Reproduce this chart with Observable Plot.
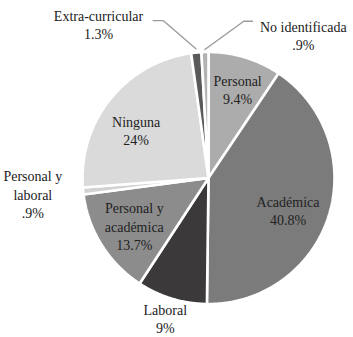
<!DOCTYPE html>
<html>
<head>
<meta charset="utf-8">
<script src="https://cdn.jsdelivr.net/npm/d3@7"></script>
<script src="https://cdn.jsdelivr.net/npm/@observablehq/plot@0.6"></script>
<style>
  html, body { margin: 0; padding: 0; background: #fff; }
  svg text { font-family: "Times New Roman", "Liberation Serif", "DejaVu Serif", serif !important; }
</style>
</head>
<body>
<div id="chart"></div>
<script>
// ---- data ----
const categories = ["Personal", "Académica", "Laboral", "Personal y académica", "Personal y laboral", "Ninguna", "Extra-curricular", "No identificada"];
const values = [9.4, 40.8, 9, 13.7, 0.9, 24, 1.3, 0.9];
const colors = ["#acacac", "#7b7b7b", "#3b3939", "#8c8c8c", "#d2d2d2", "#dadada", "#5a5a5a", "#b3b3b3"];

// ---- layout (label placement relative to each slice: radius factor k, angle offset in degrees) ----
const labelLayout = [
  {k: 0.74, da: 1.3},
  {k: 0.68, da: 4.6},
  {k: 1.165, da: 0.2},
  {k: 0.70, da: -0.5},
  {k: 1.37, da: 0.7, dx: -0.03},
  {k: 0.69, da: -5.2},
  {k: 1.50, da: -30},
  {k: 1.36, da: 35.2}
];
const leaderLayout = {
  6: {k0: 1.03, k1: 1.30, da: -10.5, tail: -0.08},
  7: {k0: 1.02, k1: 1.275, da: 14.3, tail: 0.07}
};

const W = 353, H = 337, CX = 208, CY = 177.5, PX = 126;

const rows = categories.map((c, i) => ({cat: c, value: values[i], color: colors[i]}));
const arcs = d3.pie().sort(null).value(d => d.value)(rows);

const polar = (a, k) => ({x: k * Math.sin(a), y: k * Math.cos(a)});
const deg = Math.PI / 180;

const slices = arcs.map(a => {
  const pts = [{x: 0, y: 0}];
  const n = Math.max(2, Math.ceil((a.endAngle - a.startAngle) / (0.5 * deg)));
  for (let j = 0; j <= n; j++) {
    pts.push(polar(a.startAngle + (a.endAngle - a.startAngle) * j / n, 1));
  }
  pts.push({x: 0, y: 0});
  return {color: a.data.color, pts};
});

const fmt = v => String(v).replace(/^0\./, ".") + "%";
const labels = arcs.map((a, i) => {
  const L = labelLayout[i];
  const mid = (a.startAngle + a.endAngle) / 2 + L.da * deg;
  const p = polar(mid, L.k);
  return {x: p.x + (L.dx || 0), y: p.y, text: a.data.cat.replace("Personal y ", "Personal y\n") + "\n" + fmt(a.data.value)};
});

const leaders = [];
Object.entries(leaderLayout).forEach(([i, L]) => {
  const a = arcs[+i];
  const mid = (a.startAngle + a.endAngle) / 2;
  const p0 = polar(mid, L.k0);
  const p1 = polar(mid + L.da * deg, L.k1);
  leaders.push({id: i, ...p0}, {id: i, ...p1}, {id: i, x: p1.x + L.tail, y: p1.y});
});

const chart = Plot.plot({
  width: W,
  height: H,
  margin: 0,
  x: {domain: [-CX / PX, (W - CX) / PX], axis: null},
  y: {domain: [-(H - CY) / PX, CY / PX], axis: null},
  style: {background: "#fff"},
  marks: [
    ...slices.map(s => Plot.line(s.pts, {x: "x", y: "y", fill: s.color, stroke: "#fff", strokeWidth: 2.6, strokeLinejoin: "miter"})),
    Plot.line(leaders, {x: "x", y: "y", z: "id", stroke: "#9a9a9a", strokeWidth: 1.3}),
    Plot.text(labels, {x: "x", y: "y", text: "text", fontSize: 14, lineHeight: 1.3, fill: "#222", fontFamily: "Times New Roman, Liberation Serif, DejaVu Serif, serif"})
  ]
});
document.getElementById("chart").appendChild(chart);
</script>
</body>
</html>
